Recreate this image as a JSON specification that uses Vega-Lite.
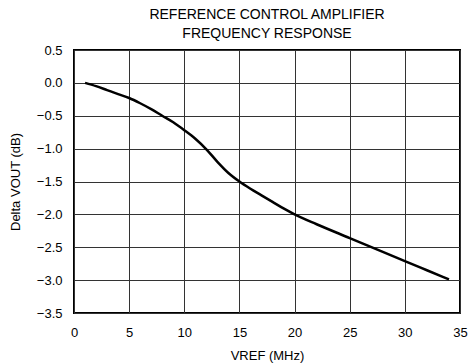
{
  "$schema": "https://vega.github.io/schema/vega-lite/v6.json",
  "autosize": {"type": "none"},
  "width": 386,
  "height": 263,
  "padding": {"left": 74, "top": 50, "right": 9, "bottom": 51},
  "background": "white",
  "title": {
    "text": ["REFERENCE CONTROL AMPLIFIER", "FREQUENCY RESPONSE"],
    "font": "Liberation Sans",
    "fontSize": 14,
    "fontWeight": "normal",
    "lineHeight": 19,
    "offset": 3,
    "anchor": "middle",
    "color": "black"
  },
  "config": {
    "view": {"stroke": "black", "strokeWidth": 2},
    "axis": {
      "labelFont": "Liberation Sans",
      "titleFont": "Liberation Sans",
      "labelFontSize": 13,
      "titleFontSize": 13,
      "titleFontWeight": "normal",
      "labelColor": "black",
      "titleColor": "black",
      "domain": false,
      "ticks": false,
      "gridColor": "#333",
      "gridWidth": 1,
      "gridOpacity": 1
    }
  },
  "data": {
    "values": [
      {"f": 1, "d": 0.0},
      {"f": 2, "d": -0.05},
      {"f": 3, "d": -0.11},
      {"f": 4, "d": -0.17},
      {"f": 5, "d": -0.23},
      {"f": 6, "d": -0.31},
      {"f": 7, "d": -0.4},
      {"f": 8, "d": -0.5},
      {"f": 9, "d": -0.6},
      {"f": 10, "d": -0.72},
      {"f": 11, "d": -0.85},
      {"f": 12, "d": -1.01},
      {"f": 13, "d": -1.2},
      {"f": 14, "d": -1.37},
      {"f": 15, "d": -1.5},
      {"f": 16, "d": -1.61},
      {"f": 17, "d": -1.71},
      {"f": 18, "d": -1.81},
      {"f": 19, "d": -1.91},
      {"f": 20, "d": -2.0},
      {"f": 22, "d": -2.15},
      {"f": 25, "d": -2.36},
      {"f": 28, "d": -2.57},
      {"f": 30, "d": -2.71},
      {"f": 32, "d": -2.85},
      {"f": 34, "d": -2.99}
    ]
  },
  "mark": {"type": "line", "color": "black", "strokeWidth": 2.5, "interpolate": "monotone", "clip": true},
  "encoding": {
    "x": {
      "field": "f",
      "type": "quantitative",
      "scale": {"domain": [0, 35], "nice": false, "zero": false},
      "axis": {
        "values": [0, 5, 10, 15, 20, 25, 30, 35],
        "title": "VREF (MHz)",
        "labelPadding": 13,
        "titlePadding": 10,
        "labelFlush": false
      }
    },
    "y": {
      "field": "d",
      "type": "quantitative",
      "scale": {"domain": [-3.5, 0.5], "nice": false, "zero": false},
      "axis": {
        "values": [-3.5, -3, -2.5, -2, -1.5, -1, -0.5, 0, 0.5],
        "format": ".1f",
        "title": "Delta VOUT (dB)",
        "labelPadding": 12,
        "titlePadding": 14,
        "labelFlush": false
      }
    }
  }
}
